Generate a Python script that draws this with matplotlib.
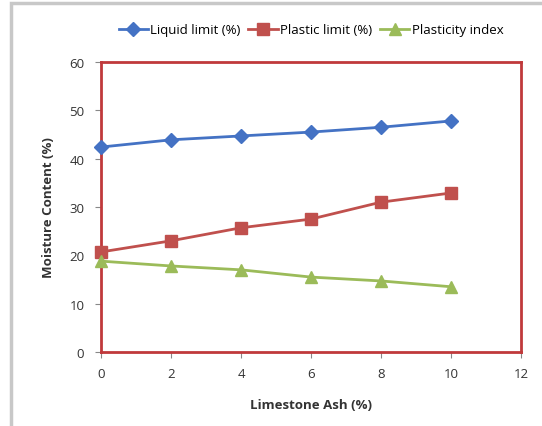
import matplotlib
matplotlib.use("Agg")
import matplotlib.pyplot as plt
from matplotlib.patches import Rectangle

ash = [0, 2, 4, 6, 8, 10]
liquid_limit = [42.4, 43.9, 44.7, 45.5, 46.5, 47.8]
plastic_limit = [20.7, 23.0, 25.7, 27.5, 31.0, 32.9]
plasticity_index = [18.8, 17.8, 17.0, 15.5, 14.7, 13.5]
x_ticks = [0, 2, 4, 6, 8, 10, 12]
y_ticks = [0, 10, 20, 30, 40, 50, 60]

plt.rcParams['font.family'] = ['Open Sans', 'DejaVu Sans']

fig = plt.figure(figsize=(5.42, 4.27), dpi=100)
W, H = 542, 427
# outer gray frame (left/top visible)
fig.add_artist(Rectangle((11 / W, -0.05), 1.1, (H - 4) / H + 0.05, transform=fig.transFigure,
                         fill=False, edgecolor='#c8c8c8', linewidth=2.5))

ax = fig.add_axes([101 / W, 1 - 353 / H, (521 - 101) / W, (353 - 63) / H])
ax.plot(ash, liquid_limit, color='#4472c4', marker='D', markersize=7, linewidth=2,
        label='Liquid limit (%)', clip_on=False, zorder=3)
ax.plot(ash, plastic_limit, color='#c0504d', marker='s', markersize=9, linewidth=2,
        label='Plastic limit (%)', clip_on=False, zorder=3)
ax.plot(ash, plasticity_index, color='#9bbb59', marker='^', markersize=9, linewidth=2,
        label='Plasticity index', clip_on=False, zorder=3)

ax.set_xlim(0, 12)
ax.set_ylim(0, 60)
ax.set_xticks(x_ticks)
ax.set_yticks(y_ticks)
for s in ax.spines.values():
    s.set_color('#c0393b')
    s.set_linewidth(2)
ax.tick_params(axis='both', colors='#888888', labelcolor='#333333', labelsize=9.5,
               length=4, direction='out')
ax.tick_params(axis='x', pad=7)
ax.tick_params(axis='y', pad=8)
ax.set_xlabel('Limestone Ash (%)', fontsize=9.5, fontweight='bold', color='#333333',
              labelpad=13)
ax.set_ylabel('Moisture Content (%)', fontsize=9.5, fontweight='bold', color='#333333',
              labelpad=10)

ax.legend(loc='lower center', bbox_to_anchor=(0.5, 1.07), ncol=3, frameon=False,
          fontsize=9.5, handlelength=2.2, handletextpad=0.2, columnspacing=0.6,
          borderaxespad=0)

fig.savefig('out.png', dpi=100, facecolor='white')
